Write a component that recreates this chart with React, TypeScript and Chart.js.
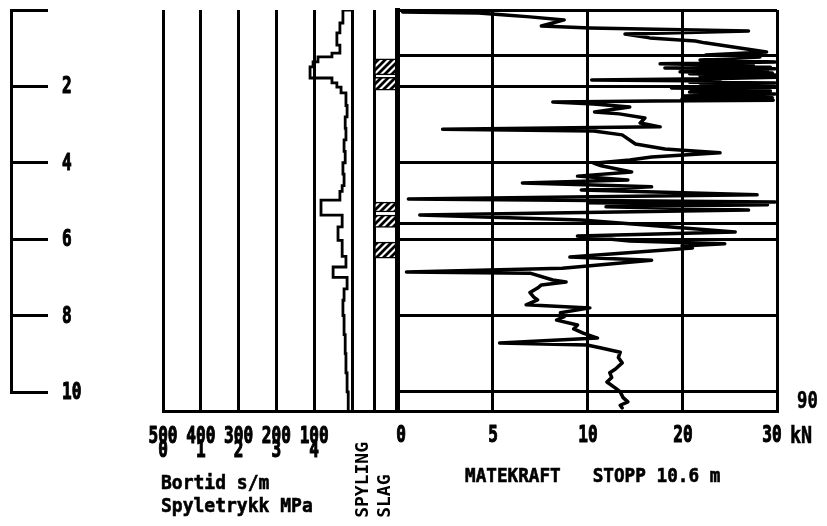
import React, { useEffect, useRef } from 'react';
import { Chart, registerables } from 'chart.js';

Chart.register(...registerables);

const FONT = "'DejaVu Sans Mono', monospace";

// ---- Depth axis (m) ----
const depthTicks = [0, 2, 4, 6, 8, 10];

// ---- Bortid s/m and Spyletrykk MPa axis ----
const bortidTicks = [500, 400, 300, 200, 100, 0];
const spyleTicks = [0, 1, 2, 3, 4];

// Bortid trace (stepped): depth where each step starts, bortid s/m
const bortidDepth = [0, 0, 0.34, 0.6, 0.92, 1.13, 1.23, 1.36, 1.49, 1.78, 1.91, 2.02, 2.17, 2.5, 2.8, 3.1, 3.4, 3.7, 4.0, 4.3, 4.6, 4.75, 4.98, 5.37, 5.68, 6.03, 6.45, 6.73, 7.0, 7.3, 7.6, 8.0, 8.5, 9.0, 9.5, 10.0, 10.5];
const bortidValue = [0, 24, 32, 40, 32, 53, 90, 103, 111, 53, 40, 29, 16, 13, 18, 16, 21, 18, 24, 21, 26, 32, 82, 26, 37, 26, 16, 50, 13, 21, 24, 21, 18, 16, 13, 10, 8];

// ---- SPYLING / SLAG column ----
const columnLabels = ['SPYLING', 'SLAG'];
const slagFrom = [1.28, 1.76, 5.03, 5.37, 6.08];
const slagTo = [1.7, 2.1, 5.29, 5.69, 6.5];

// ---- Matekraft (kN) ----
const kNTicks = [0, 5, 10, 20, 30];
const rodDepths = [0, 1.2, 2, 4, 5.6, 6, 8, 10, 10.5];
const kraftDepth = [0.05, 0.08, 0.13, 0.18, 0.26, 0.42, 0.47, 0.55, 0.63, 0.73, 0.81, 0.86, 1.1, 1.18, 1.23, 1.31, 1.36, 1.41, 1.45, 1.47, 1.5, 1.52, 1.54, 1.57, 1.6, 1.62, 1.65, 1.67, 1.7, 1.73, 1.76, 1.8, 1.83, 1.86, 1.89, 1.91, 1.94, 1.96, 1.99, 2.02, 2.04, 2.07, 2.09, 2.12, 2.15, 2.2, 2.25, 2.3, 2.33, 2.36, 2.38, 2.41, 2.46, 2.54, 2.67, 2.72, 2.83, 2.96, 3.06, 3.12, 3.17, 3.27, 3.51, 3.64, 3.74, 3.85, 3.93, 4.01, 4.08, 4.24, 4.35, 4.45, 4.53, 4.58, 4.63, 4.71, 4.84, 4.95, 5.03, 5.05, 5.1, 5.15, 5.24, 5.37, 5.5, 5.81, 5.92, 6.05, 6.12, 6.18, 6.23, 6.47, 6.55, 6.76, 6.86, 6.89, 7.07, 7.12, 7.2, 7.28, 7.4, 7.52, 7.59, 7.72, 7.8, 7.93, 8.03, 8.12, 8.25, 8.35, 8.46, 8.59, 8.72, 8.77, 8.85, 8.96, 9.1, 9.24, 9.4, 9.5, 9.62, 9.74, 9.9, 10.0, 10.15, 10.26, 10.35, 10.42];
const kraftKN = [0.3, 4.3, 5.7, 7.0, 8.8, 7.6, 10.3, 27.0, 14.0, 16.6, 21.4, 22.4, 28.9, 22.5, 28.2, 21.9, 29.8, 17.7, 27.5, 21.0, 29.3, 18.2, 29.8, 22.0, 29.0, 19.8, 29.5, 20.8, 29.8, 21.9, 29.9, 23.0, 10.5, 24.0, 20.8, 29.8, 22.5, 29.0, 21.9, 29.9, 18.9, 28.5, 21.0, 29.3, 20.8, 29.8, 20.2, 29.5, 20.0, 29.6, 17.0, 8.2, 10.7, 14.5, 10.8, 13.4, 16.1, 15.6, 17.7, 2.4, 10.7, 13.7, 15.1, 18.2, 24.0, 16.8, 14.5, 10.7, 11.5, 14.7, 9.5, 14.3, 6.6, 10.7, 16.8, 9.7, 27.9, 0.6, 29.8, 10.1, 29.0, 12.0, 27.0, 1.2, 9.7, 25.6, 9.5, 14.5, 24.5, 20.0, 21.1, 9.1, 16.8, 8.7, 0.5, 7.0, 8.2, 8.9, 7.6, 7.4, 7.0, 7.2, 7.4, 6.8, 10.3, 8.6, 8.8, 8.4, 9.5, 9.3, 9.8, 11.1, 5.4, 10.0, 11.5, 13.5, 13.3, 13.7, 13.0, 12.4, 12.6, 12.1, 13.0, 13.5, 13.8, 14.3, 13.5, 13.7];

// piecewise axis: 0-10 kN on first half, 10-30 kN on second half
const toAxis = (v: number) => (v <= 10 ? v : 10 + (v - 10) / 2);
const fromAxis = (a: number) => (a <= 10 ? a : 10 + (a - 10) * 2);

const H = 526;
const AXIS_H = 115;
const BLACK = '#000';
const LABEL_FONT = `bold 23px ${FONT}`;
const SX = 0.7; // horizontal squeeze of the plotter lettering

type Placed = { x: number; y: number; align: CanvasTextAlign; lines: string[]; dy: number };

// Draws tick labels of one scale in a narrow (condensed) plotter style,
// at the pixel positions that the scale itself gives.
function condensedTicks(axisId: string, place: (px: number, value: number, i: number) => Placed | null) {
  return {
    id: 'condensed_' + axisId,
    afterDraw(chart: any) {
      const scale = chart.scales[axisId];
      if (!scale) return;
      const ctx: CanvasRenderingContext2D = chart.ctx;
      ctx.save();
      ctx.fillStyle = BLACK;
      ctx.strokeStyle = BLACK;
      ctx.lineWidth = 1.1;
      ctx.lineJoin = 'round';
      ctx.font = LABEL_FONT;
      ctx.textBaseline = 'middle';
      scale.ticks.forEach((t: any, i: number) => {
        const px = scale.getPixelForValue(t.value);
        const p = place(px, t.value, i);
        if (!p) return;
        p.lines.forEach((s, k) => {
          ctx.save();
          ctx.translate(p.x, p.y + k * p.dy);
          ctx.scale(SX, 1);
          ctx.textAlign = p.align;
          ctx.fillText(s, 0, 0);
          ctx.strokeText(s, 0, 0);
          ctx.restore();
        });
      });
      ctx.restore();
    },
  };
}

function makeHatch(): CanvasPattern | string {
  const c = document.createElement('canvas');
  c.width = 7;
  c.height = 7;
  const g = c.getContext('2d');
  if (!g) return '#888';
  g.fillStyle = '#fff';
  g.fillRect(0, 0, 7, 7);
  g.strokeStyle = '#000';
  g.lineWidth = 2.8;
  g.beginPath();
  g.moveTo(-1, 8);
  g.lineTo(8, -1);
  g.moveTo(-3, 3);
  g.lineTo(3, -3);
  g.moveTo(4, 10);
  g.lineTo(10, 4);
  g.stroke();
  return g.createPattern(c, 'repeat') || '#888';
}

const baseOpts = (padding: any) => ({
  responsive: false,
  animation: false as const,
  devicePixelRatio: 1,
  events: [] as any[],
  layout: { padding },
  plugins: { legend: { display: false }, tooltip: { enabled: false } },
});

const fixedHeight = (s: any) => {
  s.height = AXIS_H;
};

export default function App() {
  const depthRef = useRef<HTMLCanvasElement>(null);
  const bortRef = useRef<HTMLCanvasElement>(null);
  const colRef = useRef<HTMLCanvasElement>(null);
  const kraftRef = useRef<HTMLCanvasElement>(null);

  useEffect(() => {
    const charts: Chart[] = [];

    // Depth axis
    charts.push(
      new Chart(depthRef.current!, {
        type: 'line',
        data: { datasets: [] },
        options: {
          ...baseOpts({ left: 0, right: 0, top: 10, bottom: H - 392 }),
          scales: {
            x: { type: 'linear', display: false, min: 0, max: 1 },
            y: {
              type: 'linear',
              position: 'right',
              reverse: true,
              min: 0,
              max: 10,
              afterBuildTicks: (s: any) => {
                s.ticks = depthTicks.map((v) => ({ value: v }));
              },
              afterFit: (s: any) => {
                s.width = 100 - 11;
              },
              grid: { drawOnChartArea: false, drawTicks: true, tickLength: 37, color: BLACK, lineWidth: 3 },
              border: { display: true, color: BLACK, width: 3 },
              ticks: { display: false },
            },
          },
        } as any,
        plugins: [
          condensedTicks('y', (px, v) =>
            v === 0 ? null : { x: 62, y: px + 1, align: 'left', lines: [String(v)], dy: 0 }
          ),
        ],
      })
    );

    // Bortid panel
    charts.push(
      new Chart(bortRef.current!, {
        type: 'line',
        data: {
          datasets: [
            {
              data: bortidDepth.map((d, i) => ({ x: bortidValue[i], y: d })),
              stepped: 'after',
              borderColor: BLACK,
              borderWidth: 2.8,
              pointRadius: 0,
              fill: false,
            },
          ],
        },
        options: {
          ...baseOpts({ left: 43, right: 25, top: 10, bottom: 0 }),
          scales: {
            x: {
              type: 'linear',
              reverse: true,
              min: 0,
              max: 500,
              afterBuildTicks: (s: any) => {
                s.ticks = bortidTicks.map((v) => ({ value: v }));
              },
              afterFit: fixedHeight,
              grid: { color: BLACK, lineWidth: 3, drawTicks: false },
              border: { display: true, color: BLACK, width: 3 },
              ticks: { display: false },
            },
            y: { type: 'linear', display: false, reverse: true, min: 0, max: 10.5 },
          },
        } as any,
        plugins: [
          condensedTicks('x', (px, v) => {
            const i = bortidTicks.indexOf(v);
            if (i < 0 || i >= spyleTicks.length) return null;
            return { x: px, y: 437, align: 'center', lines: [String(bortidTicks[i]), String(spyleTicks[i])], dy: 14 };
          }),
        ],
      })
    );

    // SPYLING / SLAG column
    const hatch = makeHatch();
    charts.push(
      new Chart(colRef.current!, {
        type: 'bar',
        data: {
          labels: columnLabels,
          datasets: slagFrom.map((f, i) => ({
            data: [null, [f, slagTo[i]]],
            grouped: false,
            barPercentage: 1,
            categoryPercentage: 1,
            backgroundColor: hatch,
            borderColor: BLACK,
            borderWidth: 1.5,
            borderSkipped: false,
          })),
        } as any,
        options: {
          ...baseOpts({ left: 12, right: 18, top: 10, bottom: 0 }),
          scales: {
            x: {
              type: 'category',
              afterFit: fixedHeight,
              grid: { color: BLACK, lineWidth: 3, drawTicks: true, tickLength: 31, tickColor: 'rgba(0,0,0,0)', offset: true },
              border: { display: true, color: BLACK, width: 3 },
              ticks: {
                padding: 0,
                color: BLACK,
                autoSkip: false,
                minRotation: 90,
                maxRotation: 90,
                font: { family: FONT, size: 18, weight: 'bold' },
                callback: (_v: any, i: number) => columnLabels[i].padEnd(7, ' '),
              },
            },
            y: { type: 'linear', display: false, reverse: true, min: 0, max: 10.5 },
          },
        } as any,
      })
    );

    // Matekraft panel
    charts.push(
      new Chart(kraftRef.current!, {
        type: 'line',
        data: {
          datasets: [
            {
              data: kraftDepth.map((d, i) => ({ x: toAxis(kraftKN[i]), y: d })),
              borderColor: BLACK,
              borderWidth: 3.5,
              borderJoinStyle: 'round',
              borderCapStyle: 'round',
              pointRadius: 0,
              tension: 0,
              fill: false,
            },
          ],
        },
        options: {
          ...baseOpts({ left: 17, right: 50, top: 10, bottom: 0 }),
          scales: {
            x: {
              type: 'linear',
              min: 0,
              max: toAxis(30),
              afterBuildTicks: (s: any) => {
                s.ticks = kNTicks.map((v) => ({ value: toAxis(v) }));
              },
              afterFit: fixedHeight,
              grid: { color: BLACK, lineWidth: 3, drawTicks: false },
              border: { display: true, color: BLACK, width: 3 },
              ticks: { display: false },
            },
            y: {
              type: 'linear',
              reverse: true,
              min: 0,
              max: 10.5,
              afterBuildTicks: (s: any) => {
                s.ticks = rodDepths.map((v) => ({ value: v }));
              },
              afterFit: (s: any) => {
                s.width = 0;
              },
              grid: { color: BLACK, lineWidth: 3, drawTicks: false },
              border: { display: true, color: BLACK, width: 5 },
              ticks: { display: false },
            },
          },
        } as any,
        plugins: [
          condensedTicks('x', (px, v, i) => {
            const label = String(Math.round(fromAxis(v)));
            const shift = i === 0 ? 4 : i === kNTicks.length - 1 ? -5 : 1;
            return { x: px + shift, y: 436, align: 'center', lines: [label], dy: 0 };
          }),
        ],
      })
    );

    return () => charts.forEach((c) => c.destroy());
  }, []);

  const cv = (left: number, width: number): React.CSSProperties => ({
    position: 'absolute',
    left,
    top: 0,
    width,
    height: H,
  });
  const txt: React.CSSProperties = {
    position: 'absolute',
    fontFamily: FONT,
    fontWeight: 'bold',
    color: '#000',
    whiteSpace: 'pre',
    margin: 0,
    transformOrigin: '0 0',
    WebkitTextStroke: '0.6px #000',
  };

  return (
    <div style={{ position: 'fixed', left: 0, top: 0, width: 827, height: H, background: '#fff', overflow: 'hidden' }}>
      <canvas ref={depthRef} width={100} height={H} style={cv(0, 100)} />
      <canvas ref={bortRef} width={257} height={H} style={cv(120, 257)} />
      <canvas ref={colRef} width={75} height={H} style={cv(340, 75)} />
      <canvas ref={kraftRef} width={447} height={H} style={cv(380, 447)} />
      <div style={{ ...txt, left: 161, top: 471, fontSize: 20, lineHeight: '23px', transform: 'scaleX(0.9)' }}>
        {'Bortid s/m\nSpyletrykk MPa'}
      </div>
      <div style={{ ...txt, left: 465, top: 463, fontSize: 19, lineHeight: '24px', transform: 'scaleX(0.93)' }}>
        {'MATEKRAFT   STOPP 10.6 m'}
      </div>
      <div style={{ ...txt, left: 790, top: 422, fontSize: 23, lineHeight: '26px', transform: 'scaleX(0.8)' }}>kN</div>
      <div style={{ ...txt, left: 797, top: 387, fontSize: 23, lineHeight: '26px', transform: 'scaleX(0.75)' }}>90</div>
    </div>
  );
}
